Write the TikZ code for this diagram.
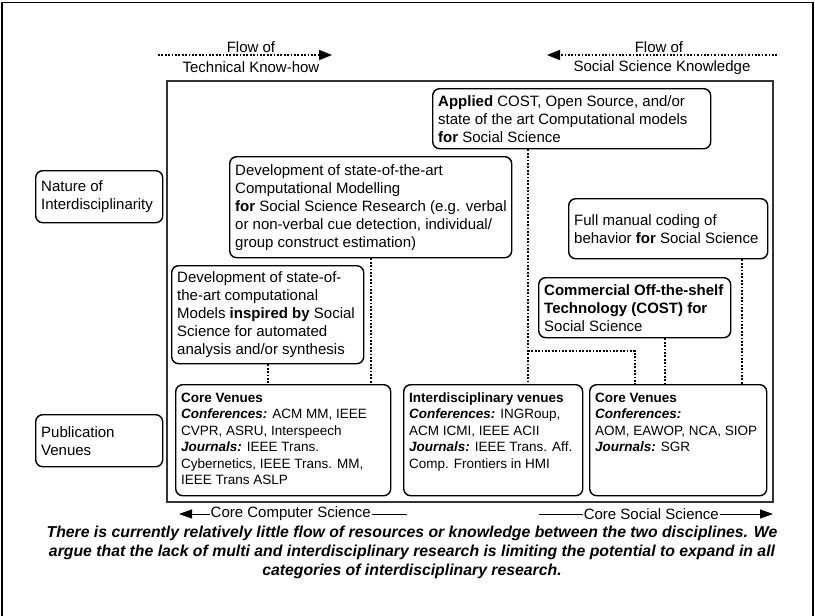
\documentclass[tikz,border=0pt]{standalone}
\usepackage{fontspec}
\setmainfont{Liberation Sans}
\usetikzlibrary{arrows.meta}
\tikzset{
  box/.style={draw=black, line width=1.4pt, rounded corners=7pt, anchor=north west, inner sep=0pt},
  txt/.style={anchor=west, align=left, inner sep=0pt, xshift=6pt, font=\fontsize{15}{18}\selectfont},
  vtxt/.style={anchor=north west, align=left, inner sep=0pt, xshift=6pt, yshift=-8.5pt, font=\fontsize{13.5}{16.5}\selectfont},
  lbl/.style={inner sep=1pt, font=\fontsize{15}{18}\selectfont},
  link/.style={line width=1.7pt, dash pattern=on 1.7pt off 1.7pt},
  flowline/.style={link, -{Triangle[length=13pt,width=10pt]}},
  coreline/.style={line width=1pt, -{Triangle[length=13pt,width=9pt]}},
  panel/.style={draw=black!80, line width=1.2pt},
  captxt/.style={align=center, inner sep=0pt, font=\fontsize{15.8}{19}\selectfont\bfseries\itshape}
}
\begin{document}
\begin{tikzpicture}[x=1pt, y=-1pt]
  \useasboundingbox (0,0) rectangle (815,616);
  \draw[line width=1.2pt] (2,616) -- (2,2.5) -- (813,2.5) -- (813,616);
  \draw[panel] (167,81) rectangle (773,502);

  % flows of knowledge
  \coordinate (tkA) at (158,55);
  \coordinate (tkB) at (332,55);
  \draw[flowline] (tkA) -- (tkB);
  \node[lbl] (tk1) at (251,47) {Flow of};
  \node[lbl] (tk2) at (251,67.5) {Technical Know-how};
  \coordinate (ssA) at (777,55);
  \coordinate (ssB) at (547,55);
  \draw[flowline] (ssA) -- (ssB);
  \node[lbl] (ss1) at (659,47) {Flow of};
  \node[lbl] (ss2) at (662,67.5) {Social Science Knowledge};

  % row labels
  \node[box, minimum width=127, minimum height=52] (nat) at (35,170) {};
  \node[txt] (natT) at (nat.west) {Nature of\\Interdisciplinarity};
  \node[box, minimum width=127, minimum height=52] (pub) at (35,414) {};
  \node[txt] (pubT) at (pub.west) {Publication\\Venues};

  % nature of interdisciplinarity
  \node[box, minimum width=278, minimum height=60] (appl) at (432,88) {};
  \node[txt] (applT) at (appl.west) {\textbf{Applied} COST, Open Source, and/or\\state of the art Computational models\\\textbf{for} Social Science};
  \node[box, minimum width=282, minimum height=101] (dev) at (229,156) {};
  \node[txt] (devT) at (dev.west) {Development of state-of-the-art\\Computational Modelling\\\textbf{for} Social Science Research (e.g. verbal\\or non-verbal cue detection, individual/\\group construct estimation)};
  \node[box, minimum width=199, minimum height=60] (full) at (568,198) {};
  \node[txt] (fullT) at (full.west) {Full manual coding of\\behavior \textbf{for} Social Science};
  \node[box, minimum width=192, minimum height=60] (cost) at (538,277) {};
  \node[txt] (costT) at (cost.west) {\textbf{Commercial Off-the-shelf}\\\textbf{Technology (COST) for}\\Social Science};
  \node[box, minimum width=192, minimum height=98] (insp) at (171,265) {};
  \node[txt] (inspT) at (insp.west) {Development of state-of-\\the-art computational\\Models \textbf{inspired by} Social\\Science for automated\\analysis and/or synthesis};

  % publication venues
  \node[box, minimum width=215, minimum height=111] (cscore) at (175,384) {};
  \node[vtxt] (cscoreT) at (cscore.north west) {\textbf{Core Venues}\\\textbf{\textit{Conferences:}} ACM MM, IEEE\\CVPR, ASRU, Interspeech\\\textbf{\textit{Journals:}} IEEE Trans.\\Cybernetics, IEEE Trans. MM,\\IEEE Trans ASLP};
  \node[box, minimum width=179, minimum height=111] (inter) at (403,384) {};
  \node[vtxt] (interT) at (inter.north west) {\textbf{Interdisciplinary venues}\\\textbf{\textit{Conferences:}} INGRoup,\\ACM ICMI, IEEE ACII\\\textbf{\textit{Journals:}} IEEE Trans. Aff.\\Comp. Frontiers in HMI};
  \node[box, minimum width=177, minimum height=111] (sscore) at (589,384) {};
  \node[vtxt] (sscoreT) at (sscore.north west) {\textbf{Core Venues}\\\textbf{\textit{Conferences:}}\\AOM, EAWOP, NCA, SIOP\\\textbf{\textit{Journals:}} SGR};

  % dotted links
  \draw[link] (insp.south) -- (insp.south |- cscore.north);
  \draw[link] (dev.south) -- (dev.south |- cscore.north);
  \coordinate (jA) at (528,351);
  \coordinate (jB) at (635,351);
  \coordinate (jC) at (665,351);
  \coordinate (jD) at (742,351);
  \draw[link] (appl.south -| jA) -- (inter.north -| jA);
  \draw[link] (jA) -- (jB) -- (sscore.north -| jB);
  \draw[link] (cost.south -| jC) -- (sscore.north -| jC);
  \draw[link] (full.south -| jD) -- (sscore.north -| jD);

  % core disciplines
  \coordinate (csA) at (407,514);
  \coordinate (csB) at (179,514);
  \draw[coreline] (csA) -- (csB) node[lbl, fill=white, pos=0.51] (csL) {Core Computer Science};
  \coordinate (soA) at (539,514);
  \coordinate (soB) at (773,514);
  \draw[coreline] (soA) -- (soB) node[lbl, fill=white, pos=0.48] (soL) {Core Social Science};

  \node[captxt] (note) at (412,552) {There is currently relatively little flow of resources or knowledge between the two disciplines. We\\argue that the lack of multi and interdisciplinary research is limiting the potential to expand in all\\categories of interdisciplinary research.};
\end{tikzpicture}
\end{document}
